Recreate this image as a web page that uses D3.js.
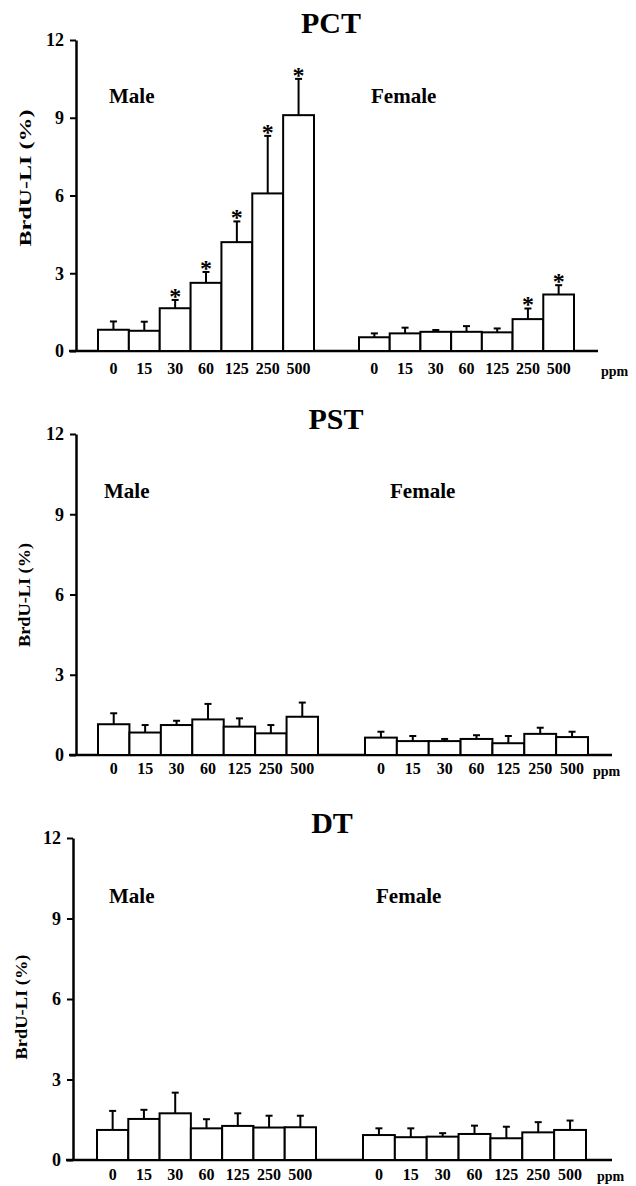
<!DOCTYPE html>
<html>
<head>
<meta charset="utf-8">
<script src="https://cdn.jsdelivr.net/npm/d3@7"></script>
<style>
  body { margin: 0; background: #fff; }
  text { font-family: "Liberation Serif", "Times New Roman", serif; font-weight: bold; fill: #000; }
</style>
</head>
<body>
<div id="chart"></div>
<script>
// dose groups (ppm)
var doses = ["0", "15", "30", "60", "125", "250", "500"];
var yTicks = [0, 3, 6, 9, 12];

// PCT
var pctMale = [0.82, 0.78, 1.65, 2.63, 4.2, 6.08, 9.1];
var pctMaleSd = [0.32, 0.35, 0.32, 0.42, 0.8, 2.22, 1.4];
var pctFemale = [0.53, 0.68, 0.74, 0.74, 0.72, 1.23, 2.18];
var pctFemaleSd = [0.15, 0.22, 0.07, 0.22, 0.15, 0.41, 0.36];
var pctMaleSig = [0, 0, 1, 1, 1, 1, 1];
var pctFemaleSig = [0, 0, 0, 0, 0, 1, 1];

// PST
var pstMale = [1.15, 0.84, 1.12, 1.33, 1.06, 0.81, 1.43];
var pstMaleSd = [0.41, 0.28, 0.16, 0.58, 0.31, 0.31, 0.53];
var pstFemale = [0.65, 0.52, 0.52, 0.6, 0.44, 0.79, 0.67];
var pstFemaleSd = [0.22, 0.19, 0.08, 0.14, 0.27, 0.23, 0.2];

// DT
var dtMale = [1.12, 1.53, 1.74, 1.18, 1.27, 1.21, 1.22];
var dtMaleSd = [0.71, 0.34, 0.77, 0.34, 0.47, 0.44, 0.43];
var dtFemale = [0.93, 0.85, 0.87, 0.97, 0.81, 1.03, 1.12];
var dtFemaleSd = [0.25, 0.33, 0.13, 0.31, 0.43, 0.38, 0.35];
var noSig = [0, 0, 0, 0, 0, 0, 0];

var svg = d3.select("#chart").append("svg")
    .attr("width", 636)
    .attr("height", 1186);

function drawPanel(p) {
    var g = svg.append("g");

    var y = d3.scaleLinear().domain([0, 12]).range([p.y0, p.y12]);

    // title
    g.append("text")
        .attr("x", p.titleX).attr("y", p.titleY)
        .attr("text-anchor", "middle")
        .attr("font-size", "30px")
        .text(p.title);

    // y axis
    var yAxis = g.append("g")
        .attr("transform", `translate(${p.ax},0)`)
        .call(d3.axisLeft(y).tickValues(yTicks).tickSize(6).tickSizeOuter(0).tickPadding(6));
    yAxis.select(".domain").attr("stroke-width", 2.5);
    yAxis.selectAll(".tick line").attr("stroke-width", 2);
    yAxis.selectAll(".tick text")
        .attr("font-size", "18px")
        .attr("font-family", "Liberation Serif")
        .attr("font-weight", "bold");

    // y label
    g.append("text")
        .attr("transform", `translate(${p.labelX},${p.labelY}) rotate(-90)`)
        .attr("text-anchor", "middle")
        .attr("font-size", "17px")
        .attr("textLength", p.labelLen)
        .attr("lengthAdjust", "spacingAndGlyphs")
        .text("BrdU-LI (%)");

    // baseline
    g.append("line")
        .attr("x1", p.ax - 7).attr("x2", p.baseEnd)
        .attr("y1", y(0)).attr("y2", y(0))
        .attr("stroke", "#000").attr("stroke-width", 2.5);

    var groups = [
        { name: "Male", range: p.male, vals: p.maleVals, sd: p.maleSd, sig: p.maleSig, lx: p.maleLabelX },
        { name: "Female", range: p.female, vals: p.femaleVals, sd: p.femaleSd, sig: p.femaleSig, lx: p.femaleLabelX }
    ];

    groups.forEach(function(grp) {
        var x = d3.scaleBand().domain(doses).range(grp.range).padding(0);
        var rows = doses.map(function(d, i) {
            return { dose: d, v: grp.vals[i], sd: grp.sd[i], sig: grp.sig[i] };
        });

        // group label
        g.append("text")
            .attr("x", grp.lx).attr("y", p.groupY)
            .attr("font-size", "21px")
            .text(grp.name);

        // error bars (drawn first so bar top covers the root)
        var err = g.append("g");
        err.selectAll(".eb")
            .data(rows)
            .enter()
            .append("line")
            .attr("x1", d => x(d.dose) + x.bandwidth() / 2)
            .attr("x2", d => x(d.dose) + x.bandwidth() / 2)
            .attr("y1", d => y(d.v))
            .attr("y2", d => y(d.v + d.sd))
            .attr("stroke", "#000").attr("stroke-width", 2);
        err.selectAll(".cap")
            .data(rows)
            .enter()
            .append("line")
            .attr("x1", d => x(d.dose) + x.bandwidth() / 2 - 3.5)
            .attr("x2", d => x(d.dose) + x.bandwidth() / 2 + 3.5)
            .attr("y1", d => y(d.v + d.sd))
            .attr("y2", d => y(d.v + d.sd))
            .attr("stroke", "#000").attr("stroke-width", 2);

        // bars
        g.append("g").selectAll("rect")
            .data(rows)
            .enter()
            .append("rect")
            .attr("x", d => x(d.dose))
            .attr("y", d => y(d.v))
            .attr("width", x.bandwidth())
            .attr("height", d => y(0) - y(d.v))
            .attr("fill", "#fff")
            .attr("stroke", "#000")
            .attr("stroke-width", 2);

        // significance stars
        g.append("g").selectAll("text")
            .data(rows.filter(d => d.sig))
            .enter()
            .append("text")
            .attr("x", d => x(d.dose) + x.bandwidth() / 2)
            .attr("y", d => y(d.v + d.sd) + 4)
            .attr("text-anchor", "middle")
            .attr("font-size", "24px")
            .text("*");

        // dose labels
        var xAxis = g.append("g")
            .attr("transform", `translate(0,${y(0)})`)
            .call(d3.axisBottom(x).tickSize(0).tickPadding(p.tickPad));
        xAxis.select(".domain").remove();
        xAxis.selectAll(".tick text")
            .attr("font-size", "16px")
            .attr("font-family", "Liberation Serif")
            .attr("font-weight", "bold");
    });

    // unit label
    g.append("text")
        .attr("x", p.ppmX).attr("y", p.ppmY)
        .attr("font-size", "14px")
        .text("ppm");
}

drawPanel({
    title: "PCT", titleX: 331, titleY: 33,
    y0: 351, y12: 40, ax: 76, baseEnd: 598,
    male: [98, 314], female: [359, 574],
    maleVals: pctMale, maleSd: pctMaleSd, maleSig: pctMaleSig,
    femaleVals: pctFemale, femaleSd: pctFemaleSd, femaleSig: pctFemaleSig,
    maleLabelX: 109, femaleLabelX: 371, groupY: 103,
    labelX: 31, labelY: 178, labelLen: 137,
    tickPad: 12, ppmX: 601, ppmY: 376
});

drawPanel({
    title: "PST", titleX: 336, titleY: 429,
    y0: 755, y12: 434, ax: 76, baseEnd: 612,
    male: [98, 318], female: [365, 588],
    maleVals: pstMale, maleSd: pstMaleSd, maleSig: noSig,
    femaleVals: pstFemale, femaleSd: pstFemaleSd, femaleSig: noSig,
    maleLabelX: 104, femaleLabelX: 390, groupY: 498,
    labelX: 30, labelY: 595, labelLen: 104,
    tickPad: 8, ppmX: 593, ppmY: 776
});

drawPanel({
    title: "DT", titleX: 332, titleY: 833,
    y0: 1160, y12: 838, ax: 73, baseEnd: 612,
    male: [97, 316], female: [363, 586],
    maleVals: dtMale, maleSd: dtMaleSd, maleSig: noSig,
    femaleVals: dtFemale, femaleSd: dtFemaleSd, femaleSig: noSig,
    maleLabelX: 109, femaleLabelX: 376, groupY: 903,
    labelX: 27, labelY: 1007, labelLen: 105,
    tickPad: 9, ppmX: 597, ppmY: 1181
});
</script>
</body>
</html>
